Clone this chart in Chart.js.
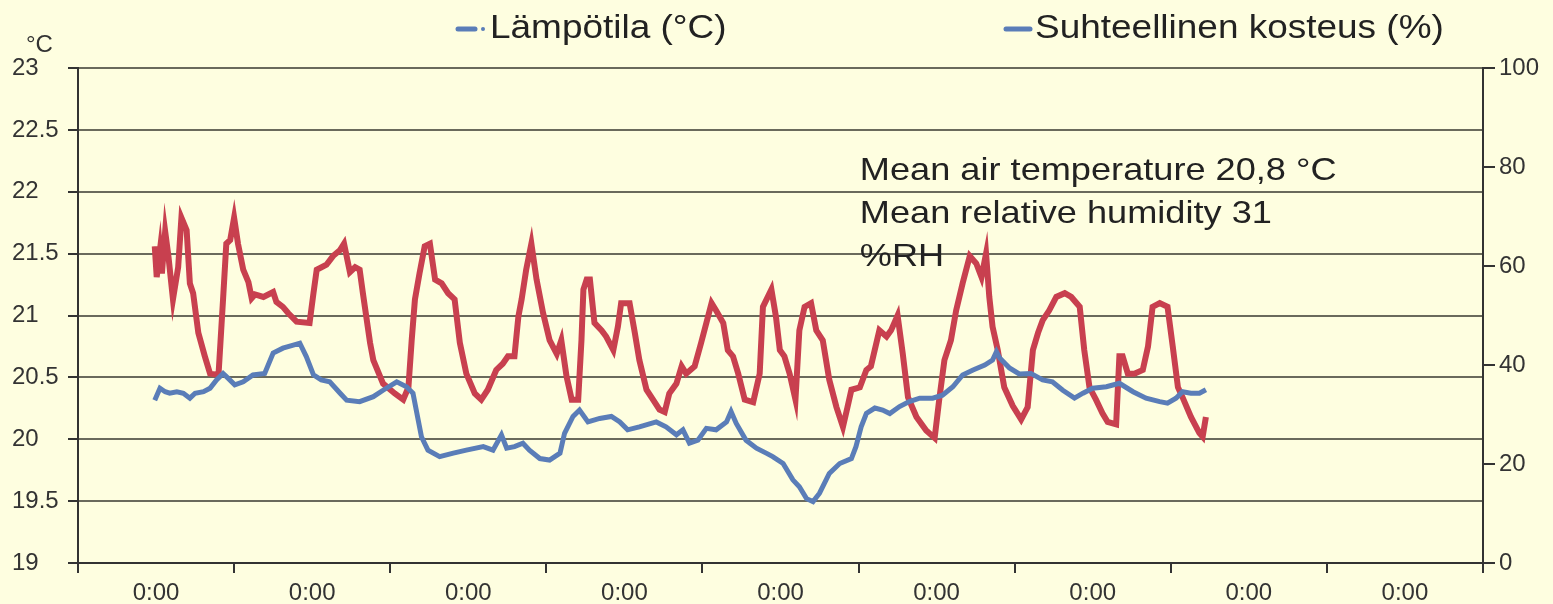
<!DOCTYPE html>
<html>
<head>
<meta charset="utf-8">
<script src="https://cdn.jsdelivr.net/npm/chart.js@4.4.1/dist/chart.umd.min.js"></script>
<style>
  html, body { margin: 0; padding: 0; background: #fefee0; }
  #wrap { width: 1553px; height: 604px; }
</style>
</head>
<body>
<div id="wrap"><canvas id="chart" width="1553" height="604"></canvas></div>
<script>
// hours from the first axis tick
const tempHours = [
  11.8, 12.1, 12.6, 12.9, 13.4, 13.9, 14.6, 15.4, 15.9, 16.7, 17.2, 17.7, 18.5, 19.5, 20.3, 21.6,
  22.3, 22.8, 23.4, 24.0, 24.6, 25.4, 26.2, 26.7, 27.2, 28.5, 30.0, 30.5, 31.5, 32.3, 33.6, 35.6,
  36.2, 36.7, 38.2, 39.2, 40.3, 40.9, 41.8, 42.6, 43.3, 43.8, 44.9, 45.4, 46.9, 48.7, 50.0, 50.8,
  51.3, 51.8, 52.5, 53.3, 54.1, 54.9, 55.9, 56.9, 57.9, 58.7, 59.7, 61.0, 62.0, 63.0, 64.3, 65.3,
  66.1, 67.1, 67.7, 68.2, 68.9, 69.7, 70.5, 71.5, 72.5, 73.6, 74.3, 75.1, 75.9, 76.9, 77.4, 77.7,
  78.2, 78.7, 79.4, 80.5, 81.2, 82.3, 83.0, 83.5, 84.8, 85.6, 86.3, 87.4, 88.4, 89.4, 90.2, 90.9,
  92.0, 92.8, 93.5, 94.8, 95.8, 96.6, 97.4, 98.1, 99.2, 99.9, 100.7, 101.5, 102.5, 103.8, 104.8, 105.3,
  106.6, 107.3, 107.9, 108.6, 109.4, 110.3, 110.9, 111.7, 112.7, 113.5, 114.5, 115.5, 116.6, 117.6, 118.3, 118.9,
  120.2, 121.2, 121.9, 123.2, 124.3, 125.0, 126.0, 126.8, 127.6, 128.9, 130.4, 131.7, 132.4, 133.2, 134.2, 135.0,
  136.0, 137.1, 138.1, 138.9, 139.6, 140.1, 140.6, 141.4, 142.4, 143.7, 145.0, 146.0, 146.8, 147.6, 148.3, 149.3,
  150.4, 151.7, 152.7, 154.0, 154.7, 155.5, 156.5, 157.5, 158.3, 159.6, 160.1, 160.6, 161.4, 162.4, 163.7, 164.5,
  165.2, 166.3, 167.5, 168.3, 169.1, 169.8, 171.1, 172.4, 172.9, 173.4
];
const tempValues = [
  21.56, 21.31, 21.53, 21.34, 21.68, 21.48, 21.13, 21.39, 21.79, 21.69, 21.26, 21.18, 20.86, 20.67, 20.53, 20.52,
  21.13, 21.58, 21.61, 21.79, 21.58, 21.37, 21.27, 21.14, 21.17, 21.15, 21.19, 21.11, 21.07, 21.02, 20.95, 20.94,
  21.18, 21.37, 21.41, 21.48, 21.53, 21.58, 21.35, 21.39, 21.37, 21.18, 20.78, 20.64, 20.45, 20.37, 20.32, 20.42,
  20.80, 21.13, 21.34, 21.56, 21.58, 21.29, 21.26, 21.18, 21.13, 20.78, 20.53, 20.37, 20.32, 20.40, 20.56, 20.61,
  20.67, 20.67, 20.99, 21.13, 21.37, 21.58, 21.29, 21.02, 20.80, 20.69, 20.80, 20.51, 20.32, 20.32, 20.80, 21.21,
  21.29, 21.29, 20.94, 20.88, 20.83, 20.72, 20.91, 21.10, 21.10, 20.86, 20.64, 20.40, 20.32, 20.24, 20.22, 20.37,
  20.45, 20.59, 20.53, 20.59, 20.78, 20.94, 21.10, 21.04, 20.94, 20.72, 20.67, 20.53, 20.32, 20.30, 20.53, 21.07,
  21.21, 20.99, 20.72, 20.67, 20.53, 20.32, 20.88, 21.07, 21.10, 20.88, 20.80, 20.48, 20.26, 20.10, 20.26, 20.40,
  20.42, 20.56, 20.59, 20.88, 20.83, 20.88, 21.00, 20.69, 20.34, 20.18, 20.07, 20.01, 20.32, 20.64, 20.80, 21.04,
  21.26, 21.48, 21.42, 21.31, 21.50, 21.15, 20.91, 20.72, 20.42, 20.27, 20.16, 20.26, 20.72, 20.86, 20.96, 21.04,
  21.15, 21.18, 21.15, 21.07, 20.72, 20.42, 20.32, 20.21, 20.14, 20.12, 20.67, 20.67, 20.53, 20.53, 20.56, 20.75,
  21.07, 21.10, 21.07, 20.75, 20.42, 20.34, 20.18, 20.05, 20.02, 20.18
];
const rhHours = [
  11.8, 12.6, 13.4, 14.1, 15.2, 16.2, 17.2, 18.0, 19.3, 20.3, 21.3, 22.3, 23.1, 24.1, 25.4, 26.9,
  28.7, 30.0, 31.5, 33.1, 34.1, 35.1, 36.2, 37.4, 38.7, 40.3, 41.3, 43.3, 45.4, 46.9, 49.0, 50.5,
  51.5, 52.3, 52.8, 53.8, 55.6, 57.7, 59.7, 62.3, 63.8, 65.1, 65.9, 67.1, 68.4, 69.4, 71.0, 72.5,
  74.1, 74.8, 76.1, 77.1, 78.4, 80.2, 82.0, 83.3, 84.5, 86.3, 88.9, 90.4, 92.0, 93.0, 94.0, 95.3,
  96.6, 98.1, 99.7, 100.4, 101.2, 102.7, 104.3, 105.8, 106.8, 108.4, 109.9, 110.9, 112.0, 113.0, 114.0, 115.5,
  117.1, 118.9, 119.6, 120.4, 121.2, 122.5, 123.7, 124.8, 126.3, 127.8, 129.4, 131.4, 132.9, 134.5, 136.0, 137.6,
  139.4, 140.6, 141.2, 141.7, 143.2, 144.7, 146.5, 148.3, 149.8, 151.4, 153.2, 154.5, 156.0, 158.1, 160.1, 162.2,
  164.2, 166.3, 167.5, 168.8, 169.8, 171.1, 172.4, 173.4
];
const rhValues = [
  32.9, 35.3, 34.6, 34.3, 34.6, 34.3, 33.3, 34.3, 34.6, 35.3, 37.0, 38.3, 37.3, 36.0, 36.6, 38.0,
  38.3, 42.4, 43.4, 44.0, 44.4, 41.7, 38.0, 37.0, 36.6, 34.3, 32.9, 32.6, 33.6, 34.9, 36.6, 35.6,
  34.3, 28.9, 25.5, 22.8, 21.5, 22.2, 22.8, 23.5, 22.8, 25.9, 23.2, 23.5, 24.2, 22.8, 21.1, 20.8,
  22.2, 26.2, 29.6, 30.9, 28.5, 29.2, 29.6, 28.5, 26.9, 27.5, 28.5, 27.5, 25.9, 26.9, 24.2, 24.8,
  27.2, 26.9, 28.5, 30.6, 28.2, 24.8, 23.2, 22.2, 21.5, 20.1, 16.8, 15.4, 13.0, 12.4, 14.1, 18.1,
  20.1, 21.1, 23.5, 27.5, 30.2, 31.3, 30.9, 30.2, 31.6, 32.6, 33.3, 33.3, 33.9, 35.6, 38.0, 39.0,
  40.0, 41.0, 42.7, 41.4, 39.4, 38.2, 38.3, 37.0, 36.6, 34.9, 33.3, 34.3, 35.3, 35.6, 36.3, 34.6,
  33.3, 32.6, 32.3, 33.3, 34.6, 34.3, 34.3, 35.0
];
const xLabels = ['0:00', '0:00', '0:00', '0:00', '0:00', '0:00', '0:00', '0:00', '0:00'];
const legendNames = ['Lämpötila (°C)', 'Suhteellinen kosteus (%)'];
const noteLines = ['Mean air temperature 20,8 °C', 'Mean relative humidity 31', '%RH'];

const RED = '#c8404f', BLUE = '#5a7db8', INK = '#333333', BG = '#fefee0';
const FONT = '"Liberation Sans", Arial, sans-serif';

// tick marks at day boundaries, labels in the middle of each day
const tickHours = [];
xLabels.forEach((_, i) => { tickHours.push(i * 24, i * 24 + 12); });
tickHours.push(xLabels.length * 24);

const stretchText = (ctx, text, x, y, size, sx) => {
  ctx.save();
  ctx.translate(x, y);
  ctx.scale(sx, 1);
  ctx.font = `${size}px ${FONT}`;
  ctx.fillText(text, 0, 0);
  ctx.restore();
};

const decor = {
  id: 'decor',
  beforeDraw(chart) {
    const ctx = chart.ctx;
    ctx.save();
    ctx.fillStyle = BG;
    ctx.fillRect(0, 0, chart.width, chart.height);
    ctx.restore();
  },
  afterDraw(chart) {
    const ctx = chart.ctx;
    const { x, yT } = chart.scales;
    ctx.save();
    ctx.fillStyle = INK;
    ctx.textBaseline = 'middle';
    ctx.textAlign = 'left';
    ctx.font = `24px ${FONT}`;
    ctx.fillText('°C', 26, 45);

    // legend (both markers blue, as in the original)
    ctx.strokeStyle = BLUE;
    ctx.fillStyle = BLUE;
    ctx.lineCap = 'round';
    ctx.lineWidth = 5;
    ctx.beginPath(); ctx.moveTo(458, 29); ctx.lineTo(475, 29); ctx.stroke();
    ctx.beginPath(); ctx.arc(483, 29, 2, 0, Math.PI * 2); ctx.fill();
    ctx.beginPath(); ctx.moveTo(1006, 29); ctx.lineTo(1030, 29); ctx.stroke();
    ctx.fillStyle = '#222';
    stretchText(ctx, legendNames[0], 490, 29, 33, 1.12);
    stretchText(ctx, legendNames[1], 1035, 29, 33, 1.12);

    // mean values note
    const nx = x.getPixelForValue(120.2);
    const ny = yT.getPixelForValue(22.17);
    noteLines.forEach((t, i) => stretchText(ctx, t, nx, ny + i * 43, 32, 1.13));
    ctx.restore();
  }
};

new Chart(document.getElementById('chart'), {
  type: 'line',
  data: {
    datasets: [
      { label: legendNames[0], data: tempHours.map((h, i) => ({ x: h, y: tempValues[i] })), yAxisID: 'yT',
        borderColor: RED, borderWidth: 6, pointRadius: 0, tension: 0, order: 1 },
      { label: legendNames[1], data: rhHours.map((h, i) => ({ x: h, y: rhValues[i] })), yAxisID: 'yRH',
        borderColor: BLUE, borderWidth: 5, pointRadius: 0, tension: 0, order: 0 }
    ]
  },
  options: {
    responsive: false,
    animation: false,
    layout: { padding: { top: 68, left: 12, right: 0, bottom: 0 } },
    plugins: { legend: { display: false }, tooltip: { enabled: false } },
    scales: {
      x: {
        type: 'linear', min: 0, max: 216,
        afterBuildTicks: s => { s.ticks = tickHours.map(v => ({ value: v })); },
        afterFit: s => { s.height = 41; },
        ticks: { autoSkip: false, maxRotation: 0, padding: 6, color: INK, font: { size: 24, family: FONT },
          callback: v => (v % 24 === 12 ? xLabels[(v - 12) / 24] : '') },
        grid: { drawOnChartArea: false, tickLength: 10, lineWidth: 2,
          color: c => (c.tick && c.tick.value % 24 === 0 ? INK : 'rgba(0,0,0,0)') },
        border: { color: INK, width: 2 }
      },
      yT: {
        position: 'left', min: 19, max: 23,
        afterFit: s => { s.width = 66; },
        ticks: { stepSize: 0.5, crossAlign: 'far', color: INK, font: { size: 24, family: FONT },
          callback: v => String(v) },
        grid: { color: '#6a6a5c', lineWidth: 2, tickLength: 10, tickColor: INK },
        border: { color: INK, width: 2 }
      },
      yRH: {
        position: 'right', min: 0, max: 100,
        afterFit: s => { s.width = 70; },
        ticks: { stepSize: 20, padding: 4, color: INK, font: { size: 24, family: FONT } },
        grid: { drawOnChartArea: false, tickLength: 12, lineWidth: 2, color: INK },
        border: { color: INK, width: 2 }
      }
    }
  },
  plugins: [decor]
});
</script>
</body>
</html>
